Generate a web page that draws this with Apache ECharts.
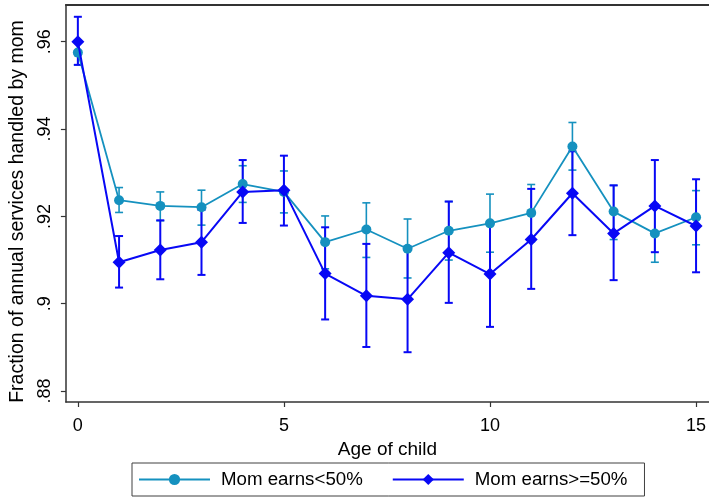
<!DOCTYPE html>
<html>
<head>
<meta charset="utf-8">
<script src="https://cdn.jsdelivr.net/npm/echarts@6/dist/echarts.min.js"></script>
<style>
html,body{margin:0;padding:0;background:#fff;}
#chart{width:709px;height:500px;}
</style>
</head>
<body>
<div id="chart"></div>
<script>
var ages = [0,1,2,3,4,5,6,7,8,9,10,11,12,13,14,15];
var lowName = 'Mom earns<50%';
var highName = 'Mom earns>=50%';
var lowMean  = [0.9575,0.9237,0.9224,0.9221,0.9274,0.9256,0.9141,0.9170,0.9126,0.9167,0.9184,0.9208,0.9360,0.9211,0.9161,0.9198];
var lowUpper = [0.9603,0.9266,0.9256,0.9260,0.9316,0.9304,0.9201,0.9231,0.9194,0.9234,0.9251,0.9273,0.9415,0.9271,0.9228,0.9259];
var lowLower = [0.9547,0.9209,0.9190,0.9180,0.9232,0.9208,0.9080,0.9106,0.9059,0.9100,0.9118,0.9142,0.9306,0.9147,0.9095,0.9135];
var highMean  = [0.9600,0.9095,0.9123,0.9141,0.9256,0.9260,0.9069,0.9018,0.9010,0.9117,0.9068,0.9147,0.9253,0.9161,0.9224,0.9178];
var highUpper = [0.9657,0.9155,0.9191,0.9215,0.9329,0.9339,0.9175,0.9137,0.9131,0.9234,0.9186,0.9263,0.9349,0.9271,0.9329,0.9285];
var highLower = [0.9547,0.9037,0.9056,0.9066,0.9185,0.9179,0.8964,0.8901,0.8889,0.9002,0.8947,0.9034,0.9157,0.9054,0.9118,0.9072];
var xTicks = [0,5,10,15];
var yTicks = [0.88,0.90,0.92,0.94,0.96];
var yTickLabels = ['.88','.9','.92','.94','.96'];

var tealColor = '#1591bf';
var blueColor = '#0808f5';
var font = 'Liberation Sans, Arial, sans-serif';

function pairs(xs, ys){ return xs.map(function(x,i){ return [x, ys[i]]; }); }
function bars(xs, lo, hi){ return xs.map(function(x,i){ return [x, lo[i], hi[i]]; }); }

function errRender(color, lw){
  return function(params, api){
    var x = api.value(0);
    var lo = api.coord([x, api.value(1)]);
    var hi = api.coord([x, api.value(2)]);
    var hw = 4;
    var st = {stroke: color, lineWidth: lw};
    return {type:'group', children:[
      {type:'line', shape:{x1:lo[0],y1:lo[1],x2:hi[0],y2:hi[1]}, style:st},
      {type:'line', shape:{x1:lo[0]-hw,y1:lo[1],x2:lo[0]+hw,y2:lo[1]}, style:st},
      {type:'line', shape:{x1:hi[0]-hw,y1:hi[1],x2:hi[0]+hw,y2:hi[1]}, style:st}
    ]};
  };
}

var chart = echarts.init(document.getElementById('chart'), null, {renderer:'canvas'});
chart.setOption({
  animation:false,
  backgroundColor:'#fff',
  textStyle:{fontFamily:font},
  grid:{left:62, top:5, right:0, bottom:98, containLabel:false},
  legend:{
    data:[lowName, highName],
    left:132, top:463,
    orient:'horizontal',
    itemWidth:71, itemHeight:14, itemGap:29,
    padding:[7,17,7,6],
    borderColor:'#404040', borderWidth:1,
    textStyle:{fontSize:18.7, color:'#000', fontFamily:font, padding:[0,0,0,6]}
  },
  xAxis:[{
    type:'value', min:-0.29, max:15.314,
    name:'Age of child', nameLocation:'middle', nameGap:28,
    nameTextStyle:{fontSize:19, color:'#000', fontFamily:font},
    axisLine:{show:true, onZero:false, lineStyle:{color:'#333', width:1.5}},
    axisTick:{show:true, length:5, customValues:xTicks, lineStyle:{color:'#333', width:1.2}},
    axisLabel:{show:true, customValues:xTicks, fontSize:18, color:'#000', margin:15, fontFamily:font},
    splitLine:{show:false}
  },{
    type:'value', position:'top', min:-0.29, max:15.314,
    axisLine:{show:true, lineStyle:{color:'#333', width:2}},
    axisTick:{show:false}, axisLabel:{show:false}, splitLine:{show:false}
  }],
  yAxis:{
    type:'value', min:0.8775, max:0.9684,
    name:'Fraction of annual services handled by mom', nameLocation:'middle', nameGap:28,
    nameTextStyle:{fontSize:19.5, color:'#000', fontFamily:font, padding:[0,16,0,0]},
    axisLine:{show:true, onZero:false, lineStyle:{color:'#333', width:1.5}},
    axisTick:{show:true, length:5, customValues:yTicks, lineStyle:{color:'#333', width:1.2}},
    axisLabel:{show:true, customValues:yTicks, rotate:90, fontSize:18, color:'#000', margin:12, fontFamily:font,
      formatter:function(v){ var i = yTicks.findIndex(function(t){return Math.abs(t-v)<1e-9;}); return i>=0 ? yTickLabels[i] : ''; }},
    splitLine:{show:false}
  },
  series:[
    {type:'custom', name:'lowErr', renderItem:errRender(tealColor,1.6), data:bars(ages, lowLower, lowUpper), z:2, silent:true},
    {type:'custom', name:'highErr', renderItem:errRender(blueColor,2), data:bars(ages, highLower, highUpper), z:3, silent:true},
    {type:'line', name:lowName, data:pairs(ages, lowMean), color:tealColor, symbol:'circle', symbolSize:10,
      lineStyle:{width:1.8, color:tealColor}, itemStyle:{color:tealColor}, z:4},
    {type:'line', name:highName, data:pairs(ages, highMean), color:blueColor, symbol:'diamond', symbolSize:13,
      lineStyle:{width:2, color:blueColor}, itemStyle:{color:blueColor}, z:5}
  ]
});
</script>
</body>
</html>
